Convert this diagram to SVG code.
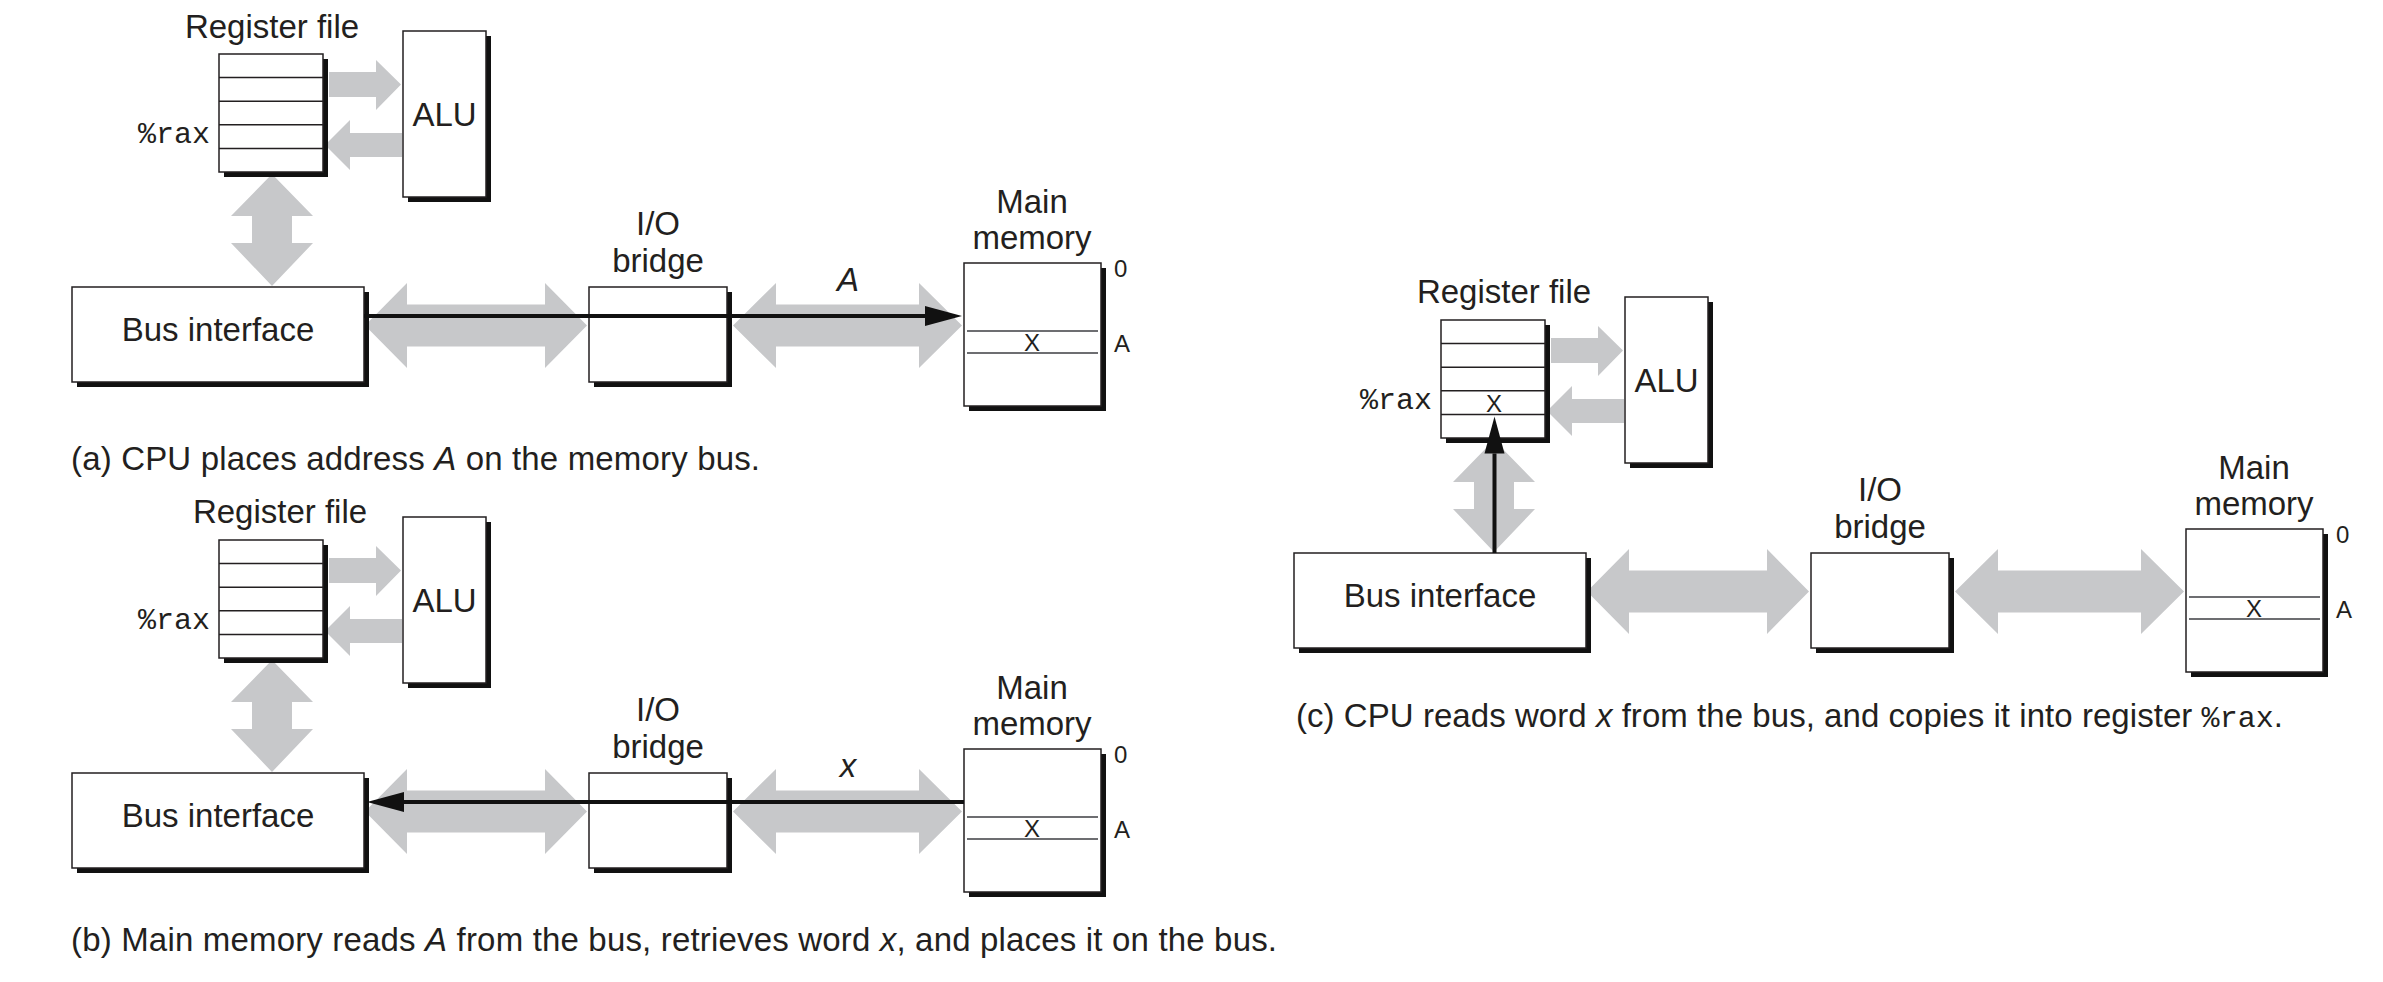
<svg xmlns="http://www.w3.org/2000/svg" width="2383" height="982" viewBox="0 0 2383 982">
<style>
  .box { fill: #ffffff; stroke: #231f20; stroke-width: 1.5; }
  .shadow { fill: #111111; }
  .row { stroke: #231f20; stroke-width: 1.5; }
  .mline { stroke: #6d6e71; stroke-width: 2; }
  .gray { fill: #c7c8ca; }
  .bline { stroke: #111111; stroke-width: 4; fill: none; marker-end: url(#head); }
  .t { font-family: "Liberation Sans", Arial, sans-serif; font-size: 33px; fill: #231f20; }
  .mid { text-anchor: middle; }
  .s { font-family: "Liberation Sans", Arial, sans-serif; font-size: 24px; fill: #231f20; }
  .mono { font-family: "Liberation Mono", "Courier New", monospace; font-size: 30px; fill: #231f20; }
  .it { font-style: italic; }
</style>
<defs>
  <marker id="head" markerUnits="userSpaceOnUse" markerWidth="37" markerHeight="20" refX="0" refY="10" orient="auto" overflow="visible">
    <path d="M0,0 L37,10 L0,20 z" fill="#111111"/>
  </marker>
  <g id="regbox">
    <rect class="shadow" x="224" y="59" width="104" height="118"/>
    <rect class="box" x="219" y="54" width="104" height="118"/>
    <line class="row" x1="219" y1="77.6" x2="323" y2="77.6"/>
    <line class="row" x1="219" y1="101.2" x2="323" y2="101.2"/>
    <line class="row" x1="219" y1="124.8" x2="323" y2="124.8"/>
    <line class="row" x1="219" y1="148.4" x2="323" y2="148.4"/>
  </g>
  <g id="alubox">
    <rect class="shadow" x="408" y="36" width="83" height="166"/>
    <rect class="box" x="403" y="31" width="83" height="166"/>
  </g>
  <g id="busbox">
    <rect class="shadow" x="77" y="292" width="292" height="95"/>
    <rect class="box" x="72" y="287" width="292" height="95"/>
  </g>
  <g id="bridgebox">
    <rect class="shadow" x="594" y="292" width="138" height="95"/>
    <rect class="box" x="589" y="287" width="138" height="95"/>
  </g>
  <g id="membox">
    <rect class="shadow" x="969" y="268" width="137" height="143"/>
    <rect class="box" x="964" y="263" width="137" height="143"/>
    <line class="mline" x1="967" y1="331" x2="1098" y2="331"/>
    <line class="mline" x1="967" y1="353" x2="1098" y2="353"/>
  </g>
  <g id="grayarrows">
    <polygon class="gray" points="329,72 376,72 376,60 401,84.5 376,110 376,97 329,97"/>
    <polygon class="gray" points="402,133 350,133 350,120 325,145 350,170 350,157 402,157"/>
    <polygon class="gray" points="272,174 313,216 292,216 292,243 313,243 272,286 231,243 252,243 252,216 231,216"/>
    <polygon class="gray" points="365,325.5 407,283 407,304.5 545,304.5 545,283 587,325.5 545,368 545,346.5 407,346.5 407,368"/>
    <polygon class="gray" points="733,325.5 776,283 776,304.5 919,304.5 919,283 962,325.5 919,368 919,346.5 776,346.5 776,368"/>
  </g>
</defs>

<!-- Panel (a) -->
<g id="panel-a">
  <g id="a-connectors-bus">
    <use href="#grayarrows"/>
  </g>
  <g id="a-register-file">
    <use href="#regbox"/>
    <text class="t mid" x="272" y="38">Register file</text>
    <text class="mono" x="210" y="143" text-anchor="end">%rax</text>
  </g>
  <g id="a-alu">
    <use href="#alubox"/>
    <text class="t mid" x="444.5" y="126">ALU</text>
  </g>
  <g id="a-bus-interface">
    <use href="#busbox"/>
    <text class="t mid" x="218" y="341">Bus interface</text>
  </g>
  <g id="a-io-bridge">
    <use href="#bridgebox"/>
    <text class="t mid" x="658" y="235">I/O</text>
    <text class="t mid" x="658" y="272">bridge</text>
  </g>
  <g id="a-main-memory">
    <use href="#membox"/>
    <text class="t mid" x="1032" y="213">Main</text>
    <text class="t mid" x="1032" y="249">memory</text>
    <text class="s mid" x="1032" y="351">X</text>
    <text class="s" x="1114" y="277">0</text>
    <text class="s" x="1114" y="352">A</text>
  </g>
  <g id="a-connectors">
    <line class="bline" x1="364" y1="316" x2="925" y2="316"/>
    <text class="t mid it" x="848" y="291">A</text>
  </g>
</g>
<text id="caption-a" class="t" x="71" y="470" textLength="689">(a) CPU places address <tspan class="it">A</tspan> on the memory bus.</text>

<!-- Panel (b) -->
<g id="panel-b" transform="translate(0,486)">
  <g id="b-connectors-bus">
    <use href="#grayarrows"/>
  </g>
  <g id="b-register-file">
    <use href="#regbox"/>
    <text class="t mid" x="280" y="37">Register file</text>
    <text class="mono" x="210" y="143" text-anchor="end">%rax</text>
  </g>
  <g id="b-alu">
    <use href="#alubox"/>
    <text class="t mid" x="444.5" y="126">ALU</text>
  </g>
  <g id="b-bus-interface">
    <use href="#busbox"/>
    <text class="t mid" x="218" y="341">Bus interface</text>
  </g>
  <g id="b-io-bridge">
    <use href="#bridgebox"/>
    <text class="t mid" x="658" y="235">I/O</text>
    <text class="t mid" x="658" y="272">bridge</text>
  </g>
  <g id="b-main-memory">
    <use href="#membox"/>
    <text class="t mid" x="1032" y="213">Main</text>
    <text class="t mid" x="1032" y="249">memory</text>
    <text class="s mid" x="1032" y="351">X</text>
    <text class="s" x="1114" y="277">0</text>
    <text class="s" x="1114" y="352">A</text>
  </g>
  <g id="b-connectors">
    <line class="bline" x1="964" y1="316" x2="404" y2="316"/>
    <text class="t mid it" x="848" y="291">x</text>
  </g>
</g>
<text id="caption-b" class="t" x="71" y="951" textLength="1206">(b) Main memory reads <tspan class="it">A</tspan> from the bus, retrieves word <tspan class="it">x</tspan>, and places it on the bus.</text>

<!-- Panel (c) -->
<g id="panel-c" transform="translate(1222,266)">
  <g id="c-connectors-bus">
    <use href="#grayarrows"/>
  </g>
  <g id="c-register-file">
    <use href="#regbox"/>
    <text class="t mid" x="282" y="37">Register file</text>
    <text class="mono" x="210" y="143" text-anchor="end">%rax</text>
    <text class="s mid" x="272" y="146">X</text>
  </g>
  <g id="c-alu">
    <use href="#alubox"/>
    <text class="t mid" x="444.5" y="126">ALU</text>
  </g>
  <g id="c-bus-interface">
    <use href="#busbox"/>
    <text class="t mid" x="218" y="341">Bus interface</text>
  </g>
  <g id="c-io-bridge">
    <use href="#bridgebox"/>
    <text class="t mid" x="658" y="235">I/O</text>
    <text class="t mid" x="658" y="272">bridge</text>
  </g>
  <g id="c-main-memory">
    <use href="#membox"/>
    <text class="t mid" x="1032" y="213">Main</text>
    <text class="t mid" x="1032" y="249">memory</text>
    <text class="s mid" x="1032" y="351">X</text>
    <text class="s" x="1114" y="277">0</text>
    <text class="s" x="1114" y="352">A</text>
  </g>
  <g id="c-connectors">
    <line class="bline" x1="272.5" y1="287" x2="272.5" y2="187.5"/>
  </g>
</g>
<text id="caption-c" class="t" x="1296" y="727" textLength="987">(c) CPU reads word <tspan class="it">x</tspan> from the bus, and copies it into register <tspan class="mono">%rax</tspan>.</text>
</svg>
